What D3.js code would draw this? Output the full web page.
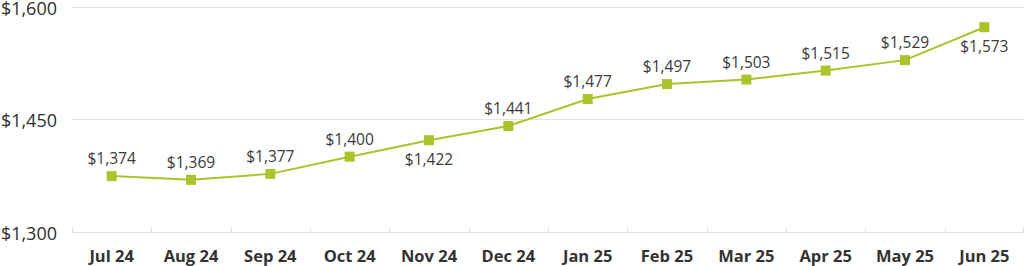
<!DOCTYPE html>
<meta charset="utf-8">
<style>
  body { margin: 0; background: #fff; }
  .grid line { stroke: #e3e3e3; stroke-width: 1px; }
  .ylab { font-family: "Open Sans", sans-serif; font-size: 18px; fill: #2e2e2e; }
  .xlab { font-family: "Open Sans", sans-serif; font-size: 16.5px; font-weight: bold; fill: #333; }
  .vlab { font-family: "Open Sans", sans-serif; font-size: 15.5px; fill: #3a3a3a; }
</style>
<body>
<script src="https://d3js.org/d3.v7.min.js"></script>
<script>

    var months = ["Jul 24", "Aug 24", "Sep 24", "Oct 24", "Nov 24", "Dec 24",
                  "Jan 25", "Feb 25", "Mar 25", "Apr 25", "May 25", "Jun 25"];
    var values = [1374, 1369, 1377, 1400, 1422, 1441, 1477, 1497, 1503, 1515, 1529, 1573];
    // label below the point for these months
    var below = ["Nov 24", "Jun 25"];
    var yTicks = [1300, 1450, 1600];

    var width = 1024, height = 266;
    var plotLeft = 72, plotRight = 1024, plotTop = 7, plotBottom = 231.5;

    var svg = d3.select("body").append("svg")
        .attr("width", width)
        .attr("height", height);

    var x = d3.scaleBand().domain(months).range([plotLeft, plotRight]);
    var y = d3.scaleLinear().domain([1300, 1600]).range([plotBottom, plotTop]);
    var fmt = function (d) { return "$" + d3.format(",")(d); };
    var green = "#a9c52b";

    // gridlines
    svg.append("g")
        .attr("class", "grid")
        .selectAll("line")
        .data(yTicks)
        .enter().append("line")
        .attr("x1", plotLeft)
        .attr("x2", plotRight)
        .attr("y1", function (d) { return Math.round(y(d)) + 0.5; })
        .attr("y2", function (d) { return Math.round(y(d)) + 0.5; });

    // little ticks between the months, pointing up from the baseline
    var bounds = months.map(function (m) { return x(m); }).concat([plotRight - 1]);
    svg.append("g")
        .attr("class", "grid")
        .selectAll("line")
        .data(bounds)
        .enter().append("line")
        .attr("x1", function (d) { return Math.round(d) + 0.5; })
        .attr("x2", function (d) { return Math.round(d) + 0.5; })
        .attr("y1", Math.round(y(1300)) + 0.5)
        .attr("y2", Math.round(y(1300)) - 4.5);

    // y labels
    svg.append("g")
        .selectAll("text")
        .data(yTicks)
        .enter().append("text")
        .attr("class", "ylab")
        .attr("x", 57)
        .attr("y", function (d) { return y(d) + 8; })
        .attr("text-anchor", "end")
        .text(fmt);

    // x labels
    svg.append("g")
        .selectAll("text")
        .data(months)
        .enter().append("text")
        .attr("class", "xlab")
        .attr("x", function (d) { return x(d) + x.bandwidth() / 2; })
        .attr("y", 262)
        .attr("text-anchor", "middle")
        .text(function (d) { return d; });

    var pts = months.map(function (m, i) { return {m: m, v: values[i]}; });

    var line = d3.line()
        .x(function (d) { return x(d.m) + x.bandwidth() / 2; })
        .y(function (d) { return y(d.v); });

    svg.append("path")
        .datum(pts)
        .attr("d", line)
        .attr("fill", "none")
        .attr("stroke", green)
        .attr("stroke-width", 2);

    svg.append("g")
        .selectAll("rect")
        .data(pts)
        .enter().append("rect")
        .attr("x", function (d) { return x(d.m) + x.bandwidth() / 2 - 5; })
        .attr("y", function (d) { return y(d.v) - 5; })
        .attr("width", 10)
        .attr("height", 10)
        .attr("fill", green);

    svg.append("g")
        .selectAll("text")
        .data(pts)
        .enter().append("text")
        .attr("class", "vlab")
        .attr("x", function (d) { return x(d.m) + x.bandwidth() / 2; })
        .attr("y", function (d) {
            return below.indexOf(d.m) >= 0 ? y(d.v) + 25 : y(d.v) - 12;
        })
        .attr("text-anchor", "middle")
        .text(function (d) { return fmt(d.v); });

</script>
</body>
